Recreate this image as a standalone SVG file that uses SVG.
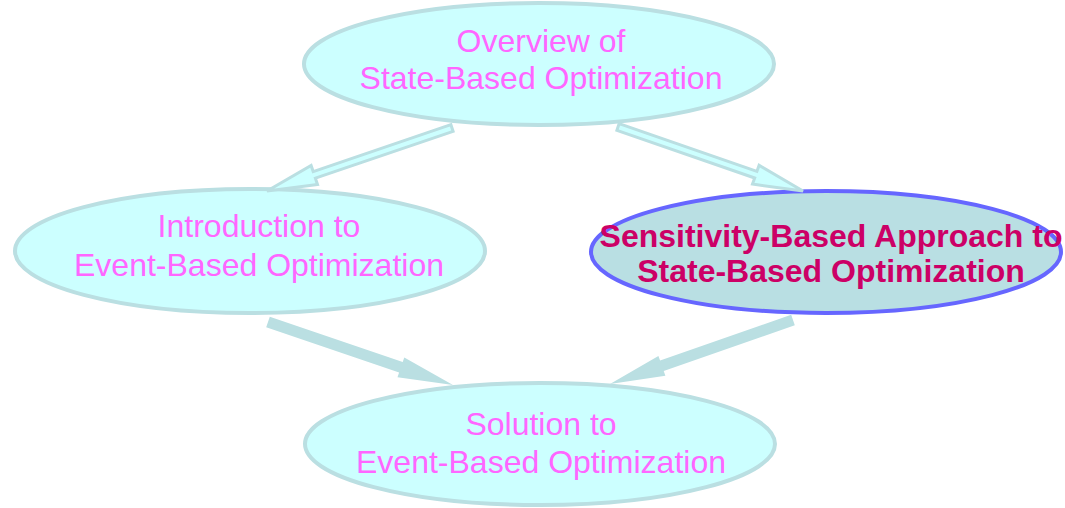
<svg xmlns="http://www.w3.org/2000/svg" width="1065" height="508" viewBox="0 0 1065 508">
<style>
.node{fill:#CCFFFF;stroke:#BADFE2;stroke-width:4}
.sel{fill:#B9DFE3;stroke:#6666FF;stroke-width:4}
.t{font-family:"Liberation Sans",Arial,sans-serif;font-size:32px;fill:#FF66FF;text-anchor:middle}
.tb{font-family:"Liberation Sans",Arial,sans-serif;font-size:32px;font-weight:bold;fill:#CC0066;text-anchor:middle}
.hollow{fill:#CCFFFF;stroke:#BADFE2;stroke-width:3;stroke-linejoin:miter}
.solid{fill:#BADFE2;stroke:none}
</style>
<rect width="1065" height="508" fill="#FFFFFF"/>
<g id="overview">
<ellipse class="node" cx="539" cy="64" rx="235" ry="61"/>
<text class="t" x="541" y="52">Overview of</text>
<text class="t" x="541" y="89">State-Based Optimization</text>
</g>
<g id="intro">
<ellipse class="node" cx="250" cy="251" rx="235" ry="62"/>
<text class="t" x="259" y="237">Introduction to</text>
<text class="t" x="259" y="276">Event-Based Optimization</text>
</g>
<g id="sensitivity">
<ellipse class="sel" cx="826" cy="252" rx="235" ry="61"/>
<text class="tb" x="831" y="247">Sensitivity-Based Approach to</text>
<text class="tb" x="831" y="282">State-Based Optimization</text>
</g>
<g id="solution">
<ellipse class="node" cx="540" cy="444" rx="235" ry="61"/>
<text class="t" x="541" y="435">Solution to</text>
<text class="t" x="541" y="473">Event-Based Optimization</text>
</g>
<g id="connectors">
<polygon class="hollow" points="450.9,124.7 313.2,171.6 311.1,165.4 267,191 317.5,184.4 315.4,178.2 453.1,131.3"/>
<polygon class="hollow" points="619.1,123.7 756.9,171.4 759.1,165.3 803,191 752.5,184.1 754.7,178.0 616.9,130.3"/>
<polygon class="solid" points="266.2,327.2 399.1,372.5 397.5,377.2 453,385 404.3,357.4 402.7,362.1 269.8,316.8"/>
<polygon class="solid" points="791.2,314.8 660.1,360.6 658.4,355.9 610,384 665.4,375.7 663.7,371.0 794.8,325.2"/>
</g>
</svg>
